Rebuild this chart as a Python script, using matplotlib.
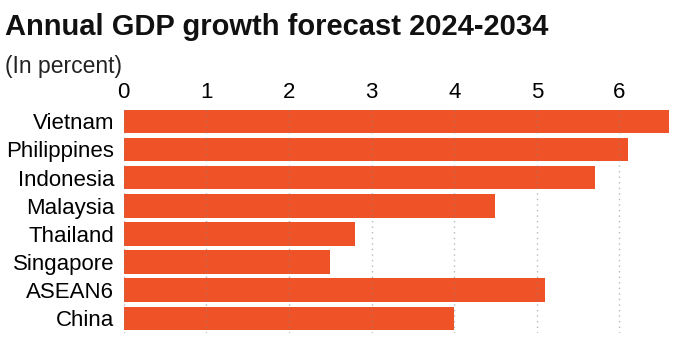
import matplotlib.pyplot as plt

# Forecast data, percent per year
countries = ["Vietnam", "Philippines", "Indonesia", "Malaysia",
             "Thailand", "Singapore", "ASEAN6", "China"]
growth = [6.6, 6.1, 5.7, 4.5, 2.8, 2.5, 5.1, 4.0]
ticks = [0, 1, 2, 3, 4, 5, 6]

plt.rcParams['font.family'] = ['Liberation Sans', 'DejaVu Sans']

fig = plt.figure(figsize=(6.84, 3.46), dpi=100)
ax = fig.add_axes([0.181, 0.039, 0.797, 0.651])

ypos = list(range(len(countries)))
ax.barh(ypos, growth, height=0.84, color='#ef5227', zorder=2)

ax.set_ylim(len(countries) - 0.5, -0.5)
ax.set_xlim(0, 6.6)
ax.set_yticks(ypos)
ax.set_yticklabels(countries, fontsize=16)
ax.set_xticks(ticks)
ax.set_xticklabels([str(t) for t in ticks], fontsize=16)
ax.xaxis.tick_top()
ax.tick_params(axis='x', length=0, pad=3)
ax.tick_params(axis='y', length=0, pad=7)
for s in ax.spines.values():
    s.set_visible(False)

# dotted guides on top of the bars
ax.grid(axis='x', linestyle=(0, (1, 3)), color='#888888', linewidth=1, alpha=0.6, zorder=3)
ax.set_axisbelow(False)

fig.text(0.007, 0.9, "Annual GDP growth forecast 2024-2034",
         fontsize=21, fontweight='bold', color='#111111')
fig.text(0.007, 0.79, "(In percent)", fontsize=16.5, color='#222222')

fig.savefig("out.png", dpi=100)
